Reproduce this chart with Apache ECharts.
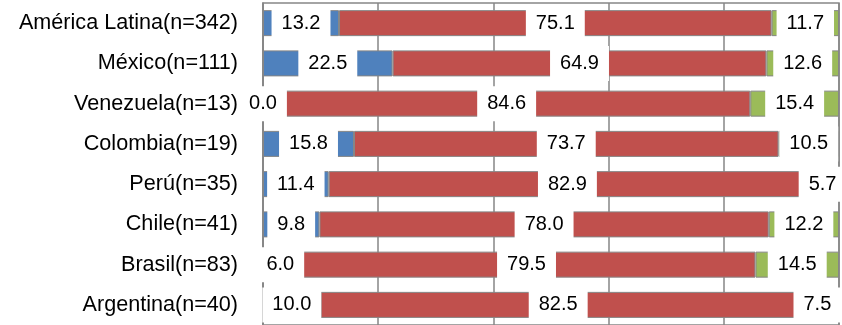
<!DOCTYPE html>
<html>
<head>
<meta charset="utf-8">
<script src="https://cdn.jsdelivr.net/npm/echarts@6/dist/echarts.min.js"></script>
<style>
	html, body { margin: 0; padding: 0; background: #fff; }
	#chart { width: 842px; height: 325px; }
</style>
</head>
<body>
<div id="chart"></div>
<script>
// categorías (de arriba hacia abajo)
var paises = ['América Latina(n=342)', 'México(n=111)', 'Venezuela(n=13)', 'Colombia(n=19)', 'Perú(n=35)', 'Chile(n=41)', 'Brasil(n=83)', 'Argentina(n=40)']
// porcentajes de cada tramo
var azul = [13.2, 22.5, 0.0, 15.8, 11.4, 9.8, 6.0, 10.0]
var rojo = [75.1, 64.9, 84.6, 73.7, 82.9, 78.0, 79.5, 82.5]
var verde = [11.7, 12.6, 15.4, 10.5, 5.7, 12.2, 14.5, 7.5]

var gris = '#868686'

function tramo(data, color) {
	return {
		type: 'bar',
		stack: 'total',
		barWidth: 26,
		data: data,
		itemStyle: { color: color, borderColor: gris, borderWidth: 1 },
		label: {
			show: true,
			position: 'inside',
			formatter: function (p) { return p.value.toFixed(1) },
			color: '#000',
			fontFamily: 'Liberation Sans',
			fontSize: 20,
			lineHeight: 23,
			backgroundColor: '#fff',
			padding: [6, 10]
		}
	}
}

var myChart = echarts.init(document.getElementById('chart'))
myChart.setOption({
	animation: false,
	grid: {
		left: 263,
		right: 3,
		top: 3,
		bottom: -4,
		show: true,
		borderColor: gris,
		borderWidth: 1.5
	},
	xAxis: {
		type: 'value',
		min: 0,
		max: 100,
		interval: 20,
		axisLabel: { show: false },
		axisLine: { show: false },
		axisTick: { show: false },
		splitLine: { lineStyle: { color: gris, width: 1.5 } }
	},
	yAxis: {
		type: 'category',
		inverse: true,
		data: paises,
		axisTick: { show: false },
		axisLine: { lineStyle: { color: gris, width: 1.5 } },
		axisLabel: {
			color: '#000',
			fontFamily: 'Liberation Sans',
			fontSize: 21.6,
			margin: 25
		}
	},
	series: [tramo(azul, '#4f81bd'), tramo(rojo, '#c0504d'), tramo(verde, '#9bbb59')]
})
</script>
</body>
</html>
